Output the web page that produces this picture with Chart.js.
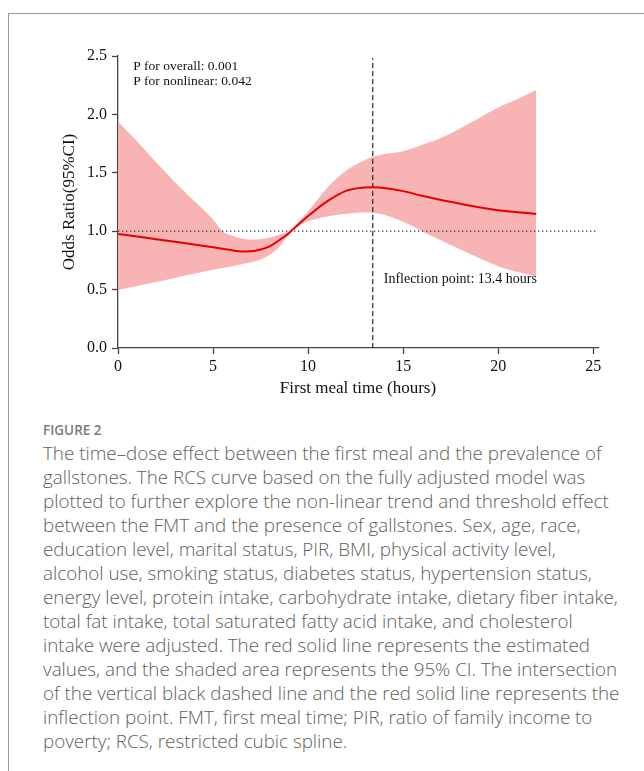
<!DOCTYPE html>
<html>
<head>
<meta charset="utf-8">
<script src="https://cdn.jsdelivr.net/npm/chart.js@4"></script>
<style>
  html, body { margin: 0; padding: 0; background: #fff; }
  body { width: 644px; height: 771px; position: relative; overflow: hidden; }
  #frame { position: absolute; left: 8px; top: 13px; width: 700px; height: 800px;
           border-left: 1px solid #9a9a9a; border-top: 1px solid #9a9a9a; }
  #myChart { position: absolute; left: 0; top: 0; }
  #figlabel { position: absolute; left: 43px; top: 421px; font-family: "Open Sans", sans-serif;
              font-weight: 600; font-size: 13.5px; color: #7a7a7a; line-height: 18px; }
  #caption { position: absolute; left: 43px; top: 441px; font-family: "Open Sans", sans-serif;
             font-weight: 300; color: #606060; line-height: 24px; white-space: nowrap; }
</style>
</head>
<body>
<div id="frame"></div>
<canvas id="myChart" width="644" height="415"></canvas>
<div id="figlabel">FIGURE 2</div>
<div id="caption">
The time–dose effect between the first meal and the prevalence of<br>
gallstones. The RCS curve based on the fully adjusted model was<br>
plotted to further explore the non-linear trend and threshold effect<br>
between the FMT and the presence of gallstones. Sex, age, race,<br>
education level, marital status, PIR, BMI, physical activity level,<br>
alcohol use, smoking status, diabetes status, hypertension status,<br>
energy level, protein intake, carbohydrate intake, dietary fiber intake,<br>
total fat intake, total saturated fatty acid intake, and cholesterol<br>
intake were adjusted. The red solid line represents the estimated<br>
values, and the shaded area represents the 95% CI. The intersection<br>
of the vertical black dashed line and the red solid line represents the<br>
inflection point. FMT, first meal time; PIR, ratio of family income to<br>
poverty; RCS, restricted cubic spline.
</div>
<script>
// data
var hours    = [0, 1, 2, 3, 4, 5, 5.5, 6, 6.5, 7, 7.5, 8, 8.5, 9, 9.5, 10, 11, 12, 13, 13.4, 14, 15, 16, 17, 18, 19, 20, 21, 22];
var estimate = [0.977, 0.955, 0.932, 0.91, 0.887, 0.862, 0.849, 0.836, 0.826, 0.828, 0.843, 0.872, 0.925, 0.985, 1.06, 1.13, 1.255, 1.345, 1.374, 1.376, 1.37, 1.343, 1.303, 1.267, 1.235, 1.205, 1.18, 1.163, 1.148];
var upperCI  = [1.937, 1.77, 1.59, 1.42, 1.26, 1.1, 1.0, 0.963, 0.938, 0.93, 0.932, 0.947, 0.97, 1.0, 1.08, 1.17, 1.37, 1.52, 1.61, 1.637, 1.66, 1.685, 1.74, 1.8, 1.88, 1.97, 2.06, 2.13, 2.21];
var lowerCI  = [0.496, 0.53, 0.565, 0.6, 0.635, 0.67, 0.685, 0.7, 0.718, 0.735, 0.758, 0.8, 0.87, 0.975, 1.045, 1.085, 1.125, 1.15, 1.16, 1.158, 1.14, 1.08, 1.0, 0.92, 0.845, 0.77, 0.7, 0.65, 0.615];
var xTicks = [0, 5, 10, 15, 20, 25];
var yTicks = [0, 0.5, 1.0, 1.5, 2.0, 2.5];
var inflectionX = 13.4;
var refOR = 1;
var pTexts = ["P for overall: 0.001", "P for nonlinear: 0.042"];
var inflectionText = "Inflection point: 13.4 hours";

function toPoints(xs, ys) {
  return xs.map(function (x, i) { return { x: x, y: ys[i] }; });
}

var serif = "'Liberation Serif', 'Times New Roman', serif";
var axisColor = "#444";

// plugin to write the annotation texts
var notes = {
  id: "notes",
  afterDraw: function (chart) {
    var ctx = chart.ctx;
    var xs = chart.scales.x, ys = chart.scales.y;
    ctx.save();
    ctx.fillStyle = "#111";
    ctx.textBaseline = "middle";
    ctx.textAlign = "left";
    ctx.font = "13.5px " + serif;
    var px = xs.getPixelForValue(0.8);
    ctx.fillText(pTexts[0], px, ys.getPixelForValue(2.41));
    ctx.fillText(pTexts[1], px, ys.getPixelForValue(2.28));
    ctx.font = "14px " + serif;
    ctx.fillText(inflectionText, xs.getPixelForValue(inflectionX) + 11, ys.getPixelForValue(0.588));
    ctx.restore();
  }
};

var ctx = document.getElementById("myChart").getContext("2d");
var myChart = new Chart(ctx, {
  type: "scatter",
  data: {
    datasets: [
      {
        label: "Estimate",
        data: toPoints(hours, estimate),
        showLine: true,
        borderColor: "#e60000",
        borderWidth: 2,
        pointRadius: 0,
        cubicInterpolationMode: "monotone",
        fill: false,
        order: 0
      },
      {
        label: "Inflection",
        data: [{ x: inflectionX, y: 0 }, { x: inflectionX, y: 2.48 }],
        showLine: true,
        borderColor: "#333",
        borderWidth: 1.3,
        borderDash: [5, 3],
        pointRadius: 0,
        fill: false,
        order: 1
      },
      {
        label: "Reference",
        data: [{ x: 0, y: refOR }, { x: 25.25, y: refOR }],
        showLine: true,
        borderColor: "#333",
        borderWidth: 1.2,
        borderDash: [1.3, 2.7],
        pointRadius: 0,
        fill: false,
        order: 2
      },
      {
        label: "Upper",
        data: toPoints(hours, upperCI),
        showLine: true,
        borderWidth: 0,
        borderColor: "rgba(0,0,0,0)",
        backgroundColor: "#f8b4b4",
        pointRadius: 0,
        cubicInterpolationMode: "monotone",
        fill: "+1",
        order: 3
      },
      {
        label: "Lower",
        data: toPoints(hours, lowerCI),
        showLine: true,
        borderWidth: 0,
        borderColor: "rgba(0,0,0,0)",
        pointRadius: 0,
        cubicInterpolationMode: "monotone",
        fill: false,
        order: 4
      }
    ]
  },
  options: {
    responsive: false,
    animation: false,
    devicePixelRatio: 1,
    layout: { padding: { left: 55, right: 46, top: 56, bottom: 0 } },
    plugins: { legend: { display: false }, tooltip: { enabled: false } },
    scales: {
      x: {
        type: "linear",
        min: 0,
        max: 25.25,
        afterBuildTicks: function (scale) {
          scale.ticks = xTicks.map(function (v) { return { value: v }; });
        },
        afterFit: function (scale) { scale.height = 67; },
        grid: { drawOnChartArea: false, drawTicks: true, tickLength: 6, tickColor: axisColor, tickWidth: 1.3 },
        border: { display: true, color: axisColor, width: 1.3 },
        ticks: { color: "#111", font: { family: serif, size: 16 }, padding: 3, maxRotation: 0 },
        title: { display: true, text: "First meal time (hours)", color: "#111",
                 font: { family: serif, size: 17 }, padding: { top: 0, bottom: 16 } }
      },
      y: {
        type: "linear",
        min: 0,
        max: 2.5,
        afterBuildTicks: function (scale) {
          scale.ticks = yTicks.map(function (v) { return { value: v }; });
        },
        afterFit: function (scale) { scale.width = 63; },
        grid: { drawOnChartArea: false, drawTicks: true, tickLength: 6, tickColor: axisColor, tickWidth: 1.3 },
        border: { display: true, color: axisColor, width: 1.3 },
        ticks: { color: "#111", font: { family: serif, size: 16 }, padding: 5,
                 callback: function (v) { return v.toFixed(1); } },
        title: { display: true, text: "Odds Ratio(95%CI)", color: "#111",
                 font: { family: serif, size: 17 }, padding: { top: 4, bottom: 0 } }
      }
    }
  },
  plugins: [notes]
});

// fit caption font so the first line spans the same width as the figure text
var cap = document.getElementById("caption");
var mctx = document.createElement("canvas").getContext("2d");
mctx.font = "300 16px 'Open Sans'";
var w = mctx.measureText("The time–dose effect between the first meal and the prevalence of").width;
cap.style.fontSize = (16 * 559 / w).toFixed(2) + "px";
</script>
</body>
</html>
